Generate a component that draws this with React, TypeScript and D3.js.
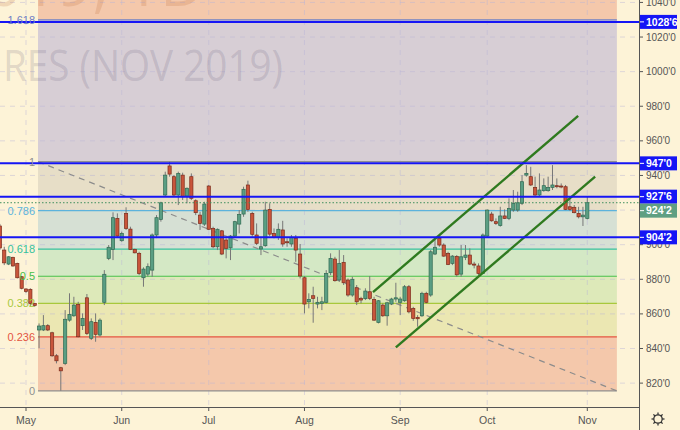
import React, { useEffect } from "react";
import * as d3 from "d3";

// daily bars, first entry is bar -6 (late April), bar 0 = May 1
const firstBar = -6;
const ohlc: [number, number, number, number][] = [
  [910.8, 912.0, 897.0, 898.1],
  [896.9, 898.8, 888.2, 889.5],
  [888.8, 893.4, 888.2, 893.0],
  [892.7, 893.0, 887.3, 887.7],
  [889.2, 889.6, 880.5, 880.9],
  [881.5, 881.9, 874.2, 874.8],
  // May
  [874.4, 874.8, 872.2, 873.0],
  [874.2, 874.8, 864.5, 866.1],
  [866.1, 866.4, 864.1, 864.9],
  [850.7, 854.5, 840.1, 853.0],
  [850.7, 859.3, 850.1, 853.2],
  [853.2, 854.1, 850.1, 850.7],
  [849.1, 849.7, 835.2, 835.8],
  [835.8, 836.8, 831.4, 832.9],
  [828.9, 829.4, 815.6, 827.1],
  [831.4, 862.2, 830.4, 856.9],
  [856.4, 871.9, 855.5, 859.7],
  [858.9, 869.9, 858.3, 865.1],
  [865.5, 867.0, 846.4, 846.8],
  [853.2, 860.3, 850.7, 857.4],
  [869.3, 871.5, 847.8, 848.7],
  [845.9, 857.4, 844.9, 855.5],
  [855.1, 860.3, 843.9, 848.2],
  [847.8, 857.4, 846.8, 856.4],
  [866.7, 885.3, 865.1, 882.9],
  [892.1, 899.8, 891.1, 898.5],
  [897.3, 918.7, 891.1, 915.6],
  [915.2, 918.1, 904.2, 905.0],
  // Jun
  [902.3, 907.5, 901.7, 906.5],
  [918.1, 921.6, 908.5, 909.4],
  [909.0, 910.4, 896.9, 897.3],
  [897.3, 897.7, 895.0, 895.3],
  [895.0, 895.9, 882.4, 883.4],
  [880.9, 886.9, 875.7, 885.9],
  [883.0, 889.2, 881.5, 887.3],
  [885.3, 906.5, 881.5, 905.6],
  [905.6, 917.1, 903.8, 915.6],
  [914.6, 924.8, 913.3, 924.2],
  [928.7, 942.2, 927.7, 940.2],
  [945.5, 947.9, 939.3, 940.8],
  [939.3, 940.2, 927.7, 928.7],
  [928.7, 942.2, 922.9, 941.2],
  [940.2, 941.6, 925.8, 927.7],
  [928.1, 933.1, 923.9, 932.6],
  [939.3, 941.2, 925.8, 926.8],
  [925.4, 926.2, 917.1, 918.5],
  [917.1, 919.0, 908.5, 912.3],
  [911.9, 924.8, 910.8, 923.5],
  // Jul
  [933.9, 934.5, 908.5, 908.9],
  [909.4, 910.4, 897.9, 898.8],
  [898.8, 909.4, 896.9, 908.9],
  [908.0, 908.5, 894.0, 894.6],
  [902.7, 903.7, 892.1, 897.9],
  [898.2, 905.6, 891.1, 905.0],
  [905.0, 913.8, 904.2, 913.3],
  [911.9, 920.0, 906.5, 917.5],
  [917.7, 933.5, 916.1, 932.0],
  [934.5, 937.0, 919.0, 920.4],
  [918.1, 919.0, 904.6, 906.0],
  [905.6, 912.3, 899.8, 900.8],
  [897.5, 904.6, 894.0, 898.8],
  [899.4, 924.8, 898.8, 920.0],
  [920.4, 923.9, 905.0, 906.1],
  [906.5, 909.4, 903.7, 904.2],
  [904.2, 912.3, 902.7, 908.9],
  [908.5, 913.8, 898.8, 900.4],
  [901.7, 903.7, 898.8, 901.1],
  [900.4, 905.6, 898.8, 904.2],
  [903.7, 905.6, 890.1, 896.9],
  [894.6, 900.4, 880.5, 881.9],
  // Aug
  [880.9, 881.9, 860.3, 865.7],
  [867.0, 871.9, 863.2, 868.4],
  [870.5, 875.7, 854.9, 869.0],
  [865.7, 869.9, 863.2, 866.7],
  [866.1, 869.9, 862.2, 867.0],
  [866.7, 885.3, 866.1, 883.4],
  [883.8, 895.0, 882.4, 892.1],
  [891.7, 893.0, 878.6, 879.2],
  [879.6, 896.9, 878.6, 889.2],
  [889.8, 894.0, 876.7, 878.0],
  [879.6, 880.5, 869.9, 870.9],
  [870.9, 881.5, 869.9, 880.0],
  [875.1, 876.7, 865.1, 867.0],
  [869.0, 869.9, 866.1, 868.0],
  [868.8, 874.8, 868.0, 873.2],
  [872.8, 881.9, 868.0, 869.0],
  [868.4, 869.9, 855.9, 856.4],
  [855.1, 868.0, 854.5, 867.6],
  [865.1, 866.1, 858.3, 858.9],
  [858.9, 867.0, 853.2, 866.4],
  [865.7, 869.3, 865.1, 868.6],
  [868.6, 878.0, 867.0, 869.3],
  // Sep
  [866.7, 869.9, 859.3, 868.6],
  [867.6, 876.7, 867.0, 875.7],
  [875.7, 876.7, 860.3, 861.2],
  [863.2, 864.1, 856.0, 857.4],
  [858.0, 859.3, 852.6, 857.2],
  [858.9, 872.8, 858.3, 871.9],
  [871.9, 872.8, 866.1, 866.7],
  [870.9, 896.9, 869.9, 895.9],
  [894.6, 902.7, 894.0, 898.5],
  [903.7, 905.0, 898.8, 899.8],
  [899.8, 900.8, 893.0, 893.4],
  [895.0, 895.9, 888.2, 888.6],
  [889.2, 894.0, 888.2, 893.4],
  [893.2, 894.0, 881.5, 882.6],
  [883.0, 899.8, 881.5, 893.0],
  [892.7, 899.8, 891.1, 894.0],
  [894.0, 897.9, 888.2, 888.8],
  [888.8, 890.1, 886.3, 888.2],
  [887.7, 889.2, 882.4, 883.4],
  [883.4, 906.5, 883.0, 905.6],
  // Oct
  [905.0, 920.4, 904.2, 920.0],
  [917.7, 919.0, 913.3, 913.8],
  [913.3, 915.2, 911.4, 912.3],
  [911.0, 921.9, 910.4, 916.6],
  [916.6, 920.4, 914.8, 915.2],
  [915.2, 926.8, 914.2, 921.0],
  [920.0, 931.6, 919.0, 923.9],
  [920.0, 930.6, 919.0, 924.2],
  [923.9, 940.2, 922.9, 936.4],
  [940.2, 946.0, 939.3, 941.2],
  [939.3, 945.0, 933.9, 934.5],
  [933.1, 939.3, 927.7, 928.7],
  [928.7, 941.2, 927.7, 931.6],
  [931.2, 938.3, 930.6, 934.1],
  [931.2, 939.3, 930.6, 933.1],
  [933.1, 946.0, 931.6, 934.5],
  [934.1, 938.3, 932.6, 933.5],
  [933.9, 935.4, 932.6, 933.5],
  [933.5, 934.5, 920.0, 920.4],
  [921.9, 927.7, 919.6, 920.4],
  [921.6, 922.9, 918.1, 918.5],
  [918.1, 921.9, 915.2, 916.1],
  [916.1, 921.9, 910.8, 917.1],
  // Nov
  [915.2, 927.7, 914.6, 924.25],
];

const monthLabels = ["May", "Jun", "Jul", "Aug", "Sep", "Oct", "Nov"];
const monthBars = [0, 22, 42, 64, 86, 106, 129];

const priceTicks = [820, 840, 860, 880, 900, 920, 940, 960, 980, 1000, 1020, 1040];
const priceTickLabels = ["820'0", "840'0", "860'0", "880'0", "900'0", "920'0", "940'0", "960'0", "980'0", "1000'0", "1020'0", "1040'0"];

// fib retracement: 1 at left anchor, 0 at right anchor
const fibHigh = 948.0;
const fibLow = 815.5;
const fibStartBar = 2.76;
const fibEndBar = 135.8;
const fibLevels = [0, 0.236, 0.382, 0.5, 0.618, 0.786, 1, 1.618];
const fibLabels = ["0", "0.236", "0.382", "0.5", "0.618", "0.786", "1", "1.618"];
const fibLineColors = ["#8f8f8f", "#e4553f", "#a8c83c", "#46c04a", "#36c29c", "#5cb3dc", "#8f8f8f", "#7080c4"];
const fibFills = ["#f4c8ab", "#ebe7b2", "#dde9b9", "#d4e8c5", "#d6e0d4", "#e7dec7", "#d7ced5", "#f4c8ab"];

// horizontal levels (blue)
const levelPrices = [1028.75, 947.0, 927.75, 904.25];
const levelLabels = ["1028'6", "947'0", "927'6", "904'2"];
const lastPrice = 924.25;
const lastPriceLabel = "924'2";

// channel lines: [bar, price] -> [bar, price]
const channelUpper: [number, number][] = [[79.75, 872.6], [126.9, 974.4]];
const channelLower: [number, number][] = [[85.0, 840.7], [130.8, 939.3]];

const FONT = "'Liberation Sans', Arial, sans-serif";

export default function App() {
  useEffect(() => {
    document.body.style.margin = "0";
  }, []);

  const W = 680;
  const H = 430;
  const plotRight = 639;
  const axisY = 407;

  const x = d3.scaleLinear().domain([0, 129]).range([26, 587.3]);
  const y = d3.scaleLinear().domain([806.2, 1041.4]).range([axisY, 0]);

  const fibPrice = (lv: number) => fibLow + (fibHigh - fibLow) * lv;
  const fx0 = x(fibStartBar);
  const fx1 = x(fibEndBar);

  const line = d3
    .line<[number, number]>()
    .x((d) => x(d[0]))
    .y((d) => y(d[1]));

  const bodyW = 3.2;
  // box under the blue 927'6 label, shifted down so the two do not overlap
  const lastBoxY = y(levelPrices[2]) + 14;

  return (
    <svg width={W} height={H} style={{ display: "block", fontFamily: FONT }}>
      <defs>
        <clipPath id="plot">
          <rect x={0} y={0} width={plotRight} height={axisY} />
        </clipPath>
      </defs>
      <rect x={0} y={0} width={W} height={H} fill="#fdf3d7" />

      <g clipPath="url(#plot)">
        {/* fib zones */}
        {fibLevels.map((lv, k) => {
          const top = k < fibLevels.length - 1 ? y(fibPrice(fibLevels[k + 1])) : 0;
          const bot = y(fibPrice(lv));
          return <rect key={"fz" + k} x={fx0} y={top} width={fx1 - fx0} height={bot - top} fill={fibFills[k]} />;
        })}

        {/* grid */}
        {priceTicks.map((p) => (
          <line key={"gh" + p} x1={0} x2={plotRight} y1={y(p)} y2={y(p)} stroke="#b8b4d8" strokeOpacity={0.45} strokeDasharray="5 5" />
        ))}
        {monthBars.map((b) => (
          <line key={"gv" + b} x1={x(b)} x2={x(b)} y1={0} y2={axisY} stroke="#b8b4d8" strokeOpacity={0.45} strokeDasharray="5 5" />
        ))}

        {/* watermark */}
        <text x={205} y={6} textAnchor="end" fontSize={62} fill="#c06a38" fillOpacity={0.2} fontFamily="'Open Sans', sans-serif">
          ZCZ2019, 1D
        </text>
        <text x={3} y={81} fontSize={43} textLength={280} lengthAdjust="spacingAndGlyphs" fill="#5a5070" fillOpacity={0.18} fontFamily="'Open Sans', sans-serif">
          RES (NOV 2019)
        </text>

        {/* fib lines */}
        {fibLevels.map((lv, k) => (
          <line key={"fl" + k} x1={fx0} x2={fx1} y1={y(fibPrice(lv))} y2={y(fibPrice(lv))} stroke={fibLineColors[k]} strokeWidth={1.2} />
        ))}
        <line x1={fx0} y1={y(fibHigh)} x2={fx1} y2={y(fibLow)} stroke="#8c8c8c" strokeWidth={1.2} strokeDasharray="6 5" />

        {/* candles */}
        {ohlc.map((d, k) => {
          const [o, h, l, c] = d;
          const cx = x(firstBar + k);
          const up = c >= o;
          const yt = y(Math.max(o, c));
          const yb = y(Math.min(o, c));
          return (
            <g key={"c" + k}>
              <line x1={cx} x2={cx} y1={y(h)} y2={y(l)} stroke="#777" strokeWidth={1} />
              <rect
                x={cx - bodyW / 2}
                y={yt}
                width={bodyW}
                height={Math.max(1, yb - yt)}
                fill={up ? "#5a9e83" : "#c9553b"}
                stroke={up ? "#2f6a52" : "#7c2c1c"}
                strokeWidth={0.7}
              />
            </g>
          );
        })}

        {/* channel */}
        <path d={line(channelUpper) || ""} stroke="#2f7a1f" strokeWidth={2.4} fill="none" />
        <path d={line(channelLower) || ""} stroke="#2f7a1f" strokeWidth={2.4} fill="none" />

        {/* last price dotted */}
        <line x1={0} x2={plotRight} y1={y(lastPrice)} y2={y(lastPrice)} stroke="#3f8f5e" strokeWidth={1} strokeDasharray="1.5 2" />

        {/* blue levels */}
        {levelPrices.map((p) => (
          <line key={"bl" + p} x1={0} x2={plotRight} y1={y(p)} y2={y(p)} stroke="#1515f5" strokeWidth={2} />
        ))}
      </g>

      {/* fib labels */}
      {fibLevels.map((lv, k) => (
        <text key={"ft" + k} x={35} y={y(fibPrice(lv)) + 4} textAnchor="end" fontSize={11} fill={fibLineColors[k]}>
          {fibLabels[k]}
        </text>
      ))}

      {/* axes */}
      <line x1={plotRight + 0.5} x2={plotRight + 0.5} y1={0} y2={H} stroke="#555" strokeWidth={1} />
      <line x1={0} x2={plotRight} y1={axisY + 0.5} y2={axisY + 0.5} stroke="#555" strokeWidth={1} />

      {priceTicks.map((p, k) =>
        Math.abs(y(p) - lastBoxY) < 7 ? null : (
          <g key={"pt" + p}>
            <line x1={plotRight} x2={plotRight + 4} y1={y(p)} y2={y(p)} stroke="#555" />
            <text x={plotRight + 7} y={y(p) + 3.5} fontSize={10} fill="#555">
              {priceTickLabels[k]}
            </text>
          </g>
        )
      )}

      {monthBars.map((b, k) => (
        <g key={"mt" + b}>
          <line x1={x(b)} x2={x(b)} y1={axisY} y2={axisY + 4} stroke="#555" />
          <text x={x(b)} y={424} textAnchor="middle" fontSize={10.5} fill="#555">
            {monthLabels[k]}
          </text>
        </g>
      ))}

      {/* level price labels */}
      {levelPrices.map((p, k) => (
        <g key={"lb" + p}>
          <rect x={plotRight + 1} y={y(p) - 7} width={37} height={14} fill="#1515f5" />
          <line x1={plotRight + 1} x2={plotRight + 5} y1={y(p)} y2={y(p)} stroke="#fff" />
          <text x={plotRight + 7} y={y(p) + 3.8} fontSize={10.5} fontWeight="bold" fill="#fff">
            {levelLabels[k]}
          </text>
        </g>
      ))}
      <g>
        <rect x={plotRight + 1} y={lastBoxY - 7} width={37} height={14} fill="#5f9f82" />
        <line x1={plotRight + 1} x2={plotRight + 5} y1={lastBoxY} y2={lastBoxY} stroke="#fff" />
        <text x={plotRight + 7} y={lastBoxY + 3.8} fontSize={10.5} fontWeight="bold" fill="#fff">
          {lastPriceLabel}
        </text>
      </g>

      {/* settings gear */}
      <g transform="translate(658,419)" stroke="#333" fill="none" strokeWidth={1.3}>
        <circle r={4.2} />
        {d3.range(8).map((k) => {
          const a = (k * Math.PI) / 4;
          return <line key={"g" + k} x1={Math.cos(a) * 4.2} y1={Math.sin(a) * 4.2} x2={Math.cos(a) * 6.5} y2={Math.sin(a) * 6.5} />;
        })}
      </g>
    </svg>
  );
}
